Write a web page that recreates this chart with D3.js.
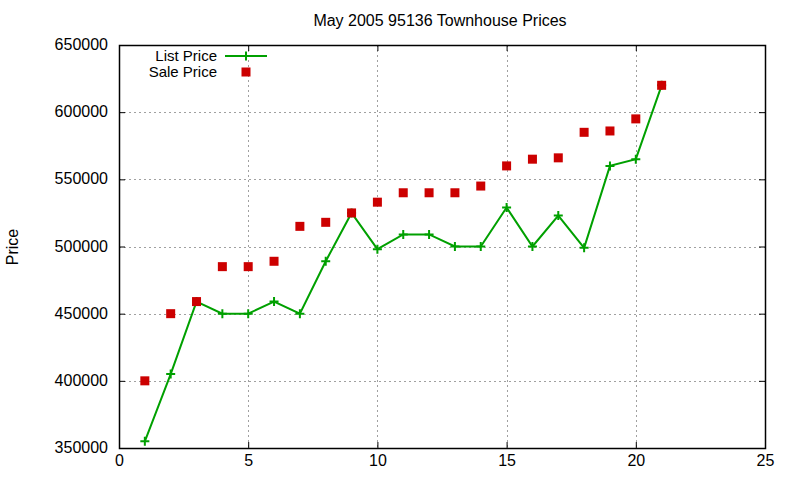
<!DOCTYPE html>
<html>
<head>
<meta charset="utf-8">
<script src="https://cdn.jsdelivr.net/npm/d3@7"></script>
<style>
  body { margin: 0; background: #fff; }
  text { font-family: "Liberation Sans", Arial, sans-serif; fill: #000; }
</style>
</head>
<body>
<div class="canvas"></div>
<script>
const days = [1, 2, 3, 4, 5, 6, 7, 8, 9, 10, 11, 12, 13, 14, 15, 16, 17, 18, 19, 20, 21];
const listPrice = [355000, 405000, 459000, 450000, 450000, 459000, 450000, 489000, 525000, 498000,
  509000, 509000, 500000, 500000, 529000, 500000, 523000, 499000, 560000, 565000, 620000];
const salePrice = [400000, 450000, 459000, 485000, 485000, 489000, 515000, 518000, 525000, 533000,
  540000, 540000, 540000, 545000, 560000, 565000, 566000, 585000, 586000, 595000, 620000];
const xTicks = [0, 5, 10, 15, 20, 25];
const yTicks = [350000, 400000, 450000, 500000, 550000, 600000, 650000];

const width = 800;
const height = 480;
const margin = { top: 45, right: 35, bottom: 32, left: 119 };
const innerWidth = width - margin.left - margin.right;
const innerHeight = height - margin.top - margin.bottom;

const svg = d3
  .select(".canvas")
  .append("svg")
  .attr("width", width)
  .attr("height", height);

const g = svg.append("g").attr("transform", `translate(${margin.left}, ${margin.top})`);

const x = d3.scaleLinear().domain([0, 25]).range([0, innerWidth]);
const y = d3.scaleLinear().domain([350000, 650000]).range([innerHeight, 0]);

// grid
g.selectAll(".gx")
  .data(xTicks.slice(1, -1))
  .enter()
  .append("line")
  .attr("x1", (d) => Math.round(x(d)) + 0.5)
  .attr("x2", (d) => Math.round(x(d)) + 0.5)
  .attr("y1", 0)
  .attr("y2", innerHeight)
  .attr("stroke", "#a0a0a0")
  .attr("stroke-dasharray", "2,3");

g.selectAll(".gy")
  .data(yTicks.slice(1, -1))
  .enter()
  .append("line")
  .attr("y1", (d) => Math.round(y(d)) + 0.5)
  .attr("y2", (d) => Math.round(y(d)) + 0.5)
  .attr("x1", 0)
  .attr("x2", innerWidth)
  .attr("stroke", "#a0a0a0")
  .attr("stroke-dasharray", "2,3");

// axes, ticks pointing inward and mirrored
const tickLen = 6;
const xAxis = g.append("g").attr("transform", `translate(0, ${innerHeight})`)
  .call(d3.axisBottom(x).tickValues(xTicks).tickSize(-tickLen).tickPadding(7));
const xAxisTop = g.append("g")
  .call(d3.axisTop(x).tickValues(xTicks).tickSize(-tickLen));
const yAxis = g.append("g")
  .call(d3.axisLeft(y).tickValues(yTicks).tickSize(-tickLen));
const yAxisRight = g.append("g").attr("transform", `translate(${innerWidth}, 0)`)
  .call(d3.axisRight(y).tickValues(yTicks).tickSize(-tickLen));

[xAxisTop, yAxis, yAxisRight].forEach((a) => a.selectAll("text").remove());

[xAxis, xAxisTop, yAxis, yAxisRight].forEach((a) => {
  a.select(".domain").remove();
  a.selectAll("line").attr("stroke", "#000");
  a.selectAll("text").attr("font-size", 16).attr("font-family", "Liberation Sans, Arial, sans-serif");
});

// y tick labels drawn in page coordinates
svg.append("g")
  .attr("transform", `translate(0, ${margin.top})`)
  .selectAll("text")
  .data(yTicks)
  .enter()
  .append("text")
  .attr("x", margin.left - 11)
  .attr("y", (d) => y(d))
  .attr("dy", "0.32em")
  .attr("text-anchor", "end")
  .attr("font-size", 16)
  .text(d3.format("d"));

g.append("rect")
  .attr("x", 0.5)
  .attr("y", 0.5)
  .attr("width", innerWidth)
  .attr("height", innerHeight)
  .attr("fill", "none")
  .attr("stroke", "#000")
  .attr("stroke-width", 1.5);

// list price line
const green = "#00a000";
const red = "#cc0000";
const listData = days.map((d, i) => [d, listPrice[i]]);
const saleData = days.map((d, i) => [d, salePrice[i]]);

g.append("path")
  .datum(listData)
  .attr("fill", "none")
  .attr("stroke", green)
  .attr("stroke-width", 2)
  .attr("d", d3.line().x((d) => x(d[0])).y((d) => y(d[1])));

const plus = (sel, size) =>
  sel.append("path")
    .attr("d", `M${-size},0H${size}M0,${-size}V${size}`)
    .attr("stroke", green)
    .attr("stroke-width", 2)
    .attr("fill", "none");

g.selectAll(".lp")
  .data(listData)
  .enter()
  .append("g")
  .attr("transform", (d) => `translate(${x(d[0])}, ${y(d[1])})`)
  .call(plus, 4.5);

g.selectAll(".sp")
  .data(saleData)
  .enter()
  .append("rect")
  .attr("x", (d) => x(d[0]) - 4.5)
  .attr("y", (d) => y(d[1]) - 4.5)
  .attr("width", 9)
  .attr("height", 9)
  .attr("fill", red);

// title and label
svg.append("text")
  .attr("x", 440)
  .attr("y", 26)
  .attr("text-anchor", "middle")
  .attr("font-size", 16)
  .text("May 2005 95136 Townhouse Prices");

svg.append("text")
  .attr("transform", "translate(18, 247) rotate(-90)")
  .attr("text-anchor", "middle")
  .attr("font-size", 16)
  .text("Price");

// legend
const legend = svg.append("g").attr("transform", "translate(217, 56)");
legend.append("text").attr("text-anchor", "end").attr("y", 5).attr("font-size", 15).text("List Price");
legend.append("line").attr("x1", 8).attr("x2", 50).attr("stroke", green).attr("stroke-width", 2);
legend.append("g").attr("transform", "translate(29, 0)").call(plus, 4.5);
legend.append("text").attr("text-anchor", "end").attr("y", 21).attr("font-size", 15).text("Sale Price");
legend.append("rect").attr("x", 24.5).attr("y", 11.5).attr("width", 9).attr("height", 9).attr("fill", red);
</script>
</body>
</html>
